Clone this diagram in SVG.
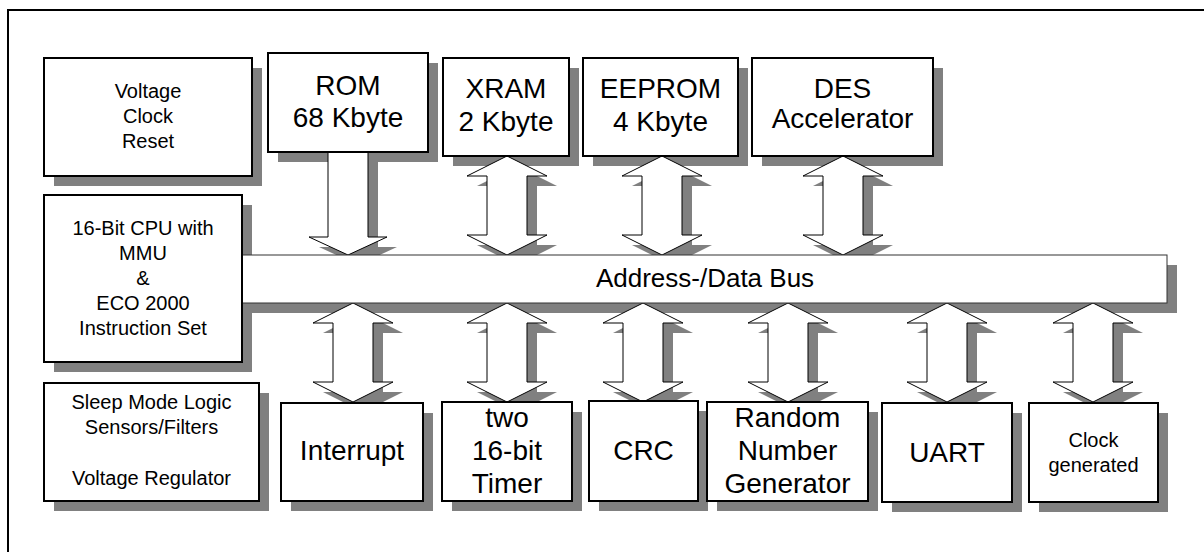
<svg xmlns="http://www.w3.org/2000/svg" xmlns:xlink="http://www.w3.org/1999/xlink" width="1204" height="552" viewBox="0 0 1204 552">
<style>
.frame{fill:none;stroke:#000;stroke-width:2}
.box{fill:#fff;stroke:#000;stroke-width:2}
.bus{fill:#fff;stroke:#333;stroke-width:1}
.sh{fill:#808080;stroke:none}
.arr{fill:#fff;stroke:#000;stroke-width:1;stroke-linejoin:miter}
text{font-family:"Liberation Sans",Arial,sans-serif;fill:#000;text-anchor:middle}
.s20{font-size:20px}
.s28{font-size:28px}
.s26{font-size:26px}
</style>
<defs>
<path id="dbl" d="M0,0 L40,20 L20,20 L20,79 L40,79 L0,99 L-40,79 L-20,79 L-20,20 L-40,20 Z"/>
<path id="sgl" d="M-20,0 L20,0 L20,85 L39,85 L0,103 L-39,85 L-20,85 Z"/>
</defs>
<rect width="1204" height="552" fill="#fff"/>
<path class="frame" d="M8,560 V10 H1210"/>
<g id="shadows" class="sh">
<rect x="54" y="68" width="208" height="118"/>
<rect x="278" y="63" width="160" height="99"/>
<rect x="453" y="68" width="126" height="98"/>
<rect x="593" y="68" width="155" height="98"/>
<rect x="762" y="68" width="181" height="98"/>
<rect x="54" y="205" width="198" height="167"/>
<rect x="252" y="265" width="925" height="48"/>
<rect x="54" y="393" width="215" height="118"/>
<rect x="291" y="413" width="142" height="98"/>
<rect x="452" y="412" width="130" height="99"/>
<rect x="599" y="411" width="109" height="100"/>
<rect x="717" y="412" width="161" height="99"/>
<rect x="892" y="413" width="130" height="99"/>
<rect x="1039" y="413" width="129" height="99"/>
<use xlink:href="#sgl" transform="translate(358,162)"/>
<use xlink:href="#dbl" transform="translate(517,166)"/>
<use xlink:href="#dbl" transform="translate(672,166)"/>
<use xlink:href="#dbl" transform="translate(853,166)"/>
<use xlink:href="#dbl" transform="translate(363,313)"/>
<use xlink:href="#dbl" transform="translate(517,313)"/>
<use xlink:href="#dbl" transform="translate(653,313)"/>
<use xlink:href="#dbl" transform="translate(798,313)"/>
<use xlink:href="#dbl" transform="translate(957,313)"/>
<use xlink:href="#dbl" transform="translate(1103,313)"/>
</g>
<g id="connectors" class="arr">
<use xlink:href="#sgl" transform="translate(348,152)"/>
<use xlink:href="#dbl" transform="translate(507,156)"/>
<use xlink:href="#dbl" transform="translate(662,156)"/>
<use xlink:href="#dbl" transform="translate(843,156)"/>
<use xlink:href="#dbl" transform="translate(353,303)"/>
<use xlink:href="#dbl" transform="translate(507,303)"/>
<use xlink:href="#dbl" transform="translate(643,303)"/>
<use xlink:href="#dbl" transform="translate(788,303)"/>
<use xlink:href="#dbl" transform="translate(947,303)"/>
<use xlink:href="#dbl" transform="translate(1093,303)"/>
</g>
<g id="bus">
<rect class="bus" x="242" y="255" width="925" height="48"/>
<text class="s26" x="705" y="287">Address-/Data Bus</text>
</g>
<g id="vcr">
<rect class="box" x="44" y="58" width="208" height="118"/>
<text class="s20" x="148" y="98">Voltage</text>
<text class="s20" x="148" y="123">Clock</text>
<text class="s20" x="148" y="148">Reset</text>
</g>
<g id="rom">
<rect class="box" x="268" y="53" width="160" height="99"/>
<text class="s28" x="348" y="95">ROM</text>
<text class="s28" x="348" y="127">68 Kbyte</text>
</g>
<g id="xram">
<rect class="box" x="443" y="58" width="126" height="98"/>
<text class="s28" x="506" y="98">XRAM</text>
<text class="s28" x="506" y="131">2 Kbyte</text>
</g>
<g id="eeprom">
<rect class="box" x="583" y="58" width="155" height="98"/>
<text class="s28" x="660.5" y="98">EEPROM</text>
<text class="s28" x="660.5" y="131">4 Kbyte</text>
</g>
<g id="des">
<rect class="box" x="752" y="58" width="181" height="98"/>
<text class="s28" x="842.5" y="98">DES</text>
<text class="s28" x="842.5" y="128">Accelerator</text>
</g>
<g id="cpu">
<rect class="box" x="44" y="195" width="198" height="167"/>
<text class="s20" x="143" y="235">16-Bit CPU with</text>
<text class="s20" x="143" y="260">MMU</text>
<text class="s20" x="143" y="285">&amp;</text>
<text class="s20" x="143" y="310">ECO 2000</text>
<text class="s20" x="143" y="335">Instruction Set</text>
</g>
<g id="sleep">
<rect class="box" x="44" y="383" width="215" height="118"/>
<text class="s20" x="151.5" y="409">Sleep Mode Logic</text>
<text class="s20" x="151.5" y="434">Sensors/Filters</text>
<text class="s20" x="151.5" y="485">Voltage Regulator</text>
</g>
<g id="interrupt">
<rect class="box" x="281" y="403" width="142" height="98"/>
<text class="s28" x="352" y="460">Interrupt</text>
</g>
<g id="timer">
<rect class="box" x="442" y="402" width="130" height="99"/>
<text class="s28" x="507" y="427">two</text>
<text class="s28" x="507" y="460">16-bit</text>
<text class="s28" x="507" y="493">Timer</text>
</g>
<g id="crc">
<rect class="box" x="589" y="401" width="109" height="100"/>
<text class="s28" x="643.5" y="460">CRC</text>
</g>
<g id="rng">
<rect class="box" x="707" y="402" width="161" height="99"/>
<text class="s28" x="787.5" y="427">Random</text>
<text class="s28" x="787.5" y="460">Number</text>
<text class="s28" x="787.5" y="493">Generator</text>
</g>
<g id="uart">
<rect class="box" x="882" y="403" width="130" height="99"/>
<text class="s28" x="947" y="462">UART</text>
</g>
<g id="clock">
<rect class="box" x="1029" y="403" width="129" height="99"/>
<text class="s20" x="1093.5" y="447">Clock</text>
<text class="s20" x="1093.5" y="472">generated</text>
</g>
</svg>
